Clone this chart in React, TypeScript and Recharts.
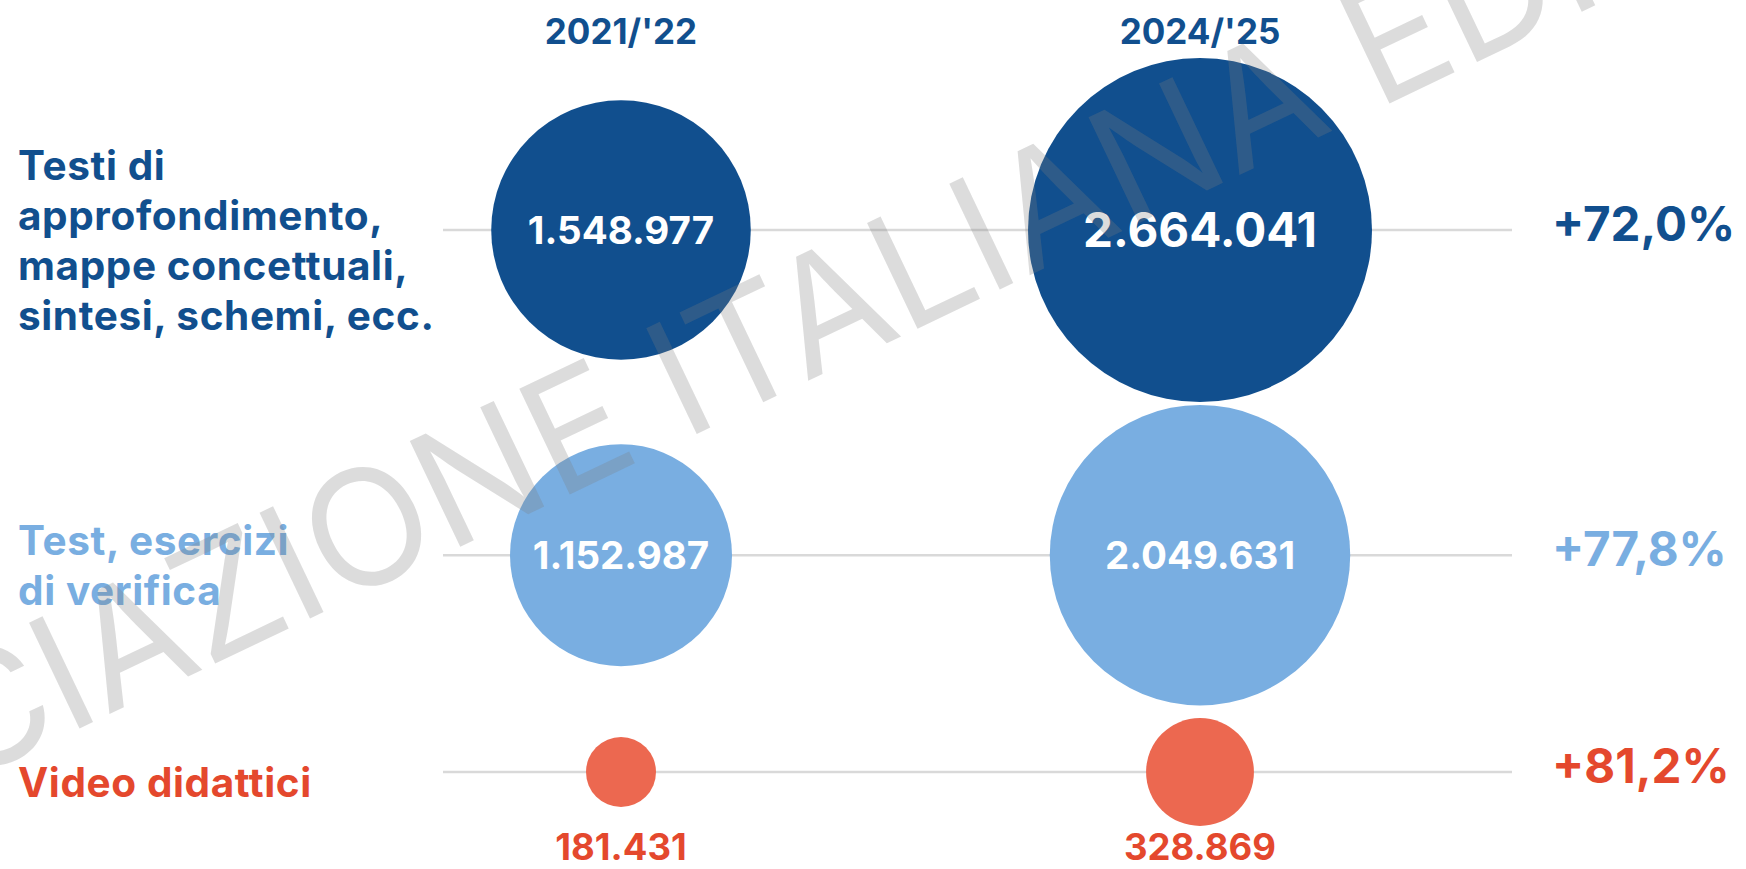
import React from 'react';
import { ScatterChart, Scatter, XAxis, YAxis, ZAxis, ReferenceLine } from 'recharts';

// ---------- data ----------
const years = ["2021/'22", "2024/'25"];
const categoryLines = [
  ['Testi di', 'approfondimento,', 'mappe concettuali,', 'sintesi, schemi, ecc.'],
  ['Test, esercizi', 'di verifica'],
  ['Video didattici'],
];
const values2021 = [1548977, 1152987, 181431];
const values2024 = [2664041, 2049631, 328869];
const changeLabels = ['+72,0%', '+77,8%', '+81,2%'];

// ---------- layout / style ----------
const rowSlots = [0, 3, 5];
const textColors = ['#114f8e', '#79aee1', '#e4482d'];
const bubbleColors = ['#114f8e', '#79aee1', '#ec6850'];
const FONT = 'Inter, "Noto Sans", sans-serif';
const W = 1746;
const H = 869;

const fmt = (v: number) => String(v).replace(/\B(?=(\d{3})+(?!\d))/g, '.');

const rows = categoryLines.map((_, i) => [
  { x: 0, y: rowSlots[i], value: values2021[i], row: i },
  { x: 1, y: rowSlots[i], value: values2024[i], row: i },
]);

const allValues = [...values2021, ...values2024];
const zMin = Math.min(...allValues);
const zMax = Math.max(...allValues);

const Bubble = (props: any) => {
  const { cx, cy, payload, fill } = props;
  const r = props.width ? props.width / 2 : Math.sqrt((props.size || 0) / Math.PI);
  const inside = r >= 70;
  const fs = r > 165 ? 47.5 : 38.5;
  return (
    <g>
      <circle cx={cx} cy={cy} r={r} fill={fill} />
      {inside ? (
        <text x={cx} y={cy + fs * 0.36} textAnchor="middle" fill="#ffffff" fontFamily={FONT} fontWeight={700} fontSize={fs}>
          {fmt(payload.value)}
        </text>
      ) : (
        <text x={cx} y={cy + 88} textAnchor="middle" fill={textColors[payload.row]} fontFamily={FONT} fontWeight={700} fontSize={36.5}>
          {fmt(payload.value)}
        </text>
      )}
    </g>
  );
};

const RowLabel = (props: any) => {
  const { y, payload } = props;
  const i = rowSlots.indexOf(payload.value);
  if (i < 0) return null;
  const lines = categoryLines[i];
  const lh = 50;
  const cap = 29;
  const first = y + 10 - (cap + (lines.length - 1) * lh) / 2 + cap;
  return (
    <text x={18} y={first} fill={textColors[i]} fontFamily={FONT} fontWeight={700} fontSize={40.5} letterSpacing={0.6}>
      {lines.map((l, k) => (
        <tspan key={k} x={18} y={first + k * lh}>{l}</tspan>
      ))}
    </text>
  );
};

const ChangeLabel = (props: any) => {
  const { viewBox, row } = props;
  if (!viewBox) return null;
  const x = viewBox.x + viewBox.width + 40;
  const y = viewBox.y + 11;
  return (
    <text x={x} y={y} fill={textColors[row]} fontFamily={FONT} fontWeight={700} fontSize={47.5}>
      {changeLabels[row]}
    </text>
  );
};

const YearLabel = (props: any) => {
  const { x, payload } = props;
  return (
    <text x={x} y={44} textAnchor="middle" fill={textColors[0]} fontFamily={FONT} fontWeight={700} fontSize={35}>
      {years[payload.value]}
    </text>
  );
};

export default function App() {
  return (
    <div style={{ position: 'absolute', left: 0, top: 0, width: W, height: H, background: '#ffffff' }}>
      <ScatterChart width={W} height={H} margin={{ top: 0, right: 234, bottom: 97, left: 0 }}>
        <XAxis
          xAxisId="x"
          type="number"
          dataKey="x"
          orientation="top"
          domain={[0, 1]}
          ticks={[0, 1]}
          padding={{ left: 178, right: 312 }}
          height={230}
          axisLine={false}
          tickLine={false}
          tick={<YearLabel />}
        />
        <YAxis
          yAxisId="l"
          type="number"
          dataKey="y"
          orientation="left"
          domain={[0, 5]}
          reversed
          ticks={rowSlots}
          width={443}
          axisLine={false}
          tickLine={false}
          tick={<RowLabel />}
        />
        <ZAxis type="number" dataKey="value" domain={[zMin, zMax]} range={[Math.PI * 35 * 35, Math.PI * 172 * 172]} />
        {rowSlots.map((s, i) => (
          <ReferenceLine
            key={s}
            xAxisId="x"
            yAxisId="l"
            y={s}
            stroke="#d9d9d9"
            strokeWidth={2.5}
            label={<ChangeLabel row={i} />}
          />
        ))}
        {rows.map((data, i) => (
          <Scatter
            key={i}
            xAxisId="x"
            yAxisId="l"
            data={data}
            fill={bubbleColors[i]}
            shape={<Bubble />}
            isAnimationActive={false}
          />
        ))}
      </ScatterChart>
      <svg width={W} height={H} style={{ position: 'absolute', left: 0, top: 0, pointerEvents: 'none' }}>
        <g transform="rotate(-25.5 684 440)" fontFamily={FONT} fontSize={161} fill="#7e7e7e" fillOpacity={0.27}>
          <text x={640} y={440} textAnchor="end">ASSOCIAZIONE</text>
          <text x={684} y={440}>ITALIANA EDITORI</text>
        </g>
      </svg>
    </div>
  );
}
